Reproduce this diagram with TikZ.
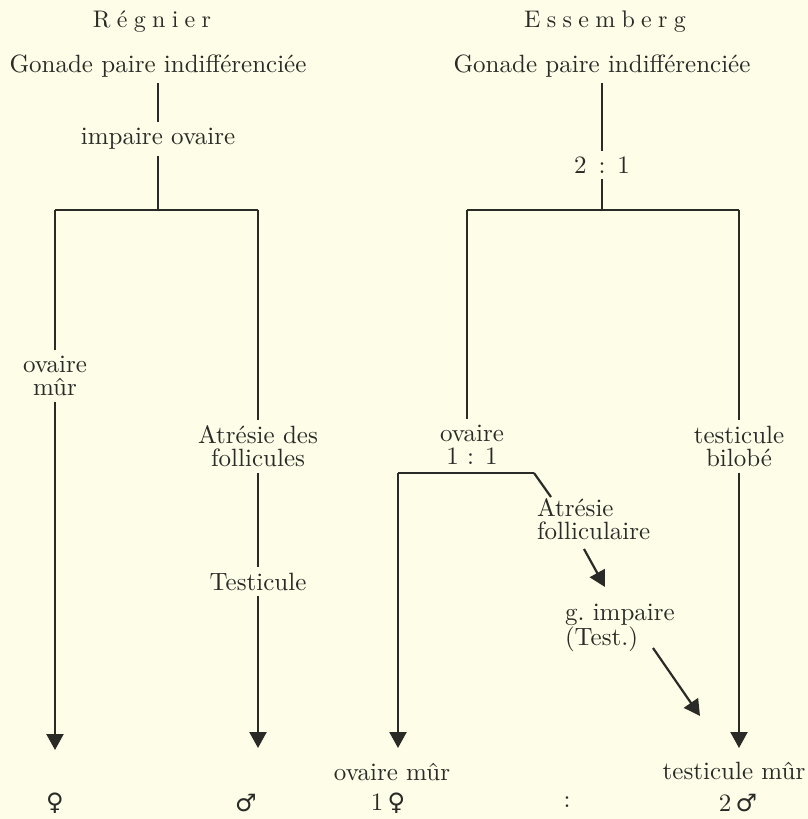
\documentclass[tikz,border=0pt]{standalone}
\usepackage{fontspec}
\setmainfont{lmroman10-regular.otf}
\newfontfamily\symf{DejaVu Sans}
\usetikzlibrary{arrows.meta,calc}
\definecolor{bg}{RGB}{253,253,232}
\definecolor{ink}{RGB}{42,42,38}
\newcommand\lsp{\hspace{6.3pt}}
\newcommand\gsym[1]{{\symf\fontsize{24}{24}\selectfont #1}}
\begin{document}
\begin{tikzpicture}[x=1pt,y=-1pt,
  lbl/.style={inner sep=0pt, outer sep=6pt, text=ink, font=\fontsize{25}{23}\selectfont, align=center},
  head/.style={inner sep=0pt, text=ink, font=\fontsize{24}{24}\selectfont},
  sym/.style={inner sep=0pt, text=ink, font=\fontsize{25}{25}\selectfont},
  ln/.style={draw=ink, line width=2.2pt},
  arr/.style={ln, -{Triangle[width=17pt,length=16pt]}},
]
\fill[bg] (0,0) rectangle (808,819);
\useasboundingbox (0,0) rectangle (808,819);

% ---------------- headers
\node[head] (hR) at (152,22) {R\lsp é\lsp g\lsp n\lsp i\lsp e\lsp r};
\node[head] (hE) at (605,22) {E\lsp s\lsp s\lsp e\lsp m\lsp b\lsp e\lsp r\lsp g};

% ---------------- Régnier (left)
\node[lbl] (gonL) at (158,65.8) {Gonade paire indifférenciée};
\node[lbl] (impL) at (158,139.1) {impaire ovaire};
\coordinate (jL) at (158,210);
\coordinate (bLL) at (55,210);
\coordinate (bLR) at (258,210);
\node[lbl] (ovL) at (55,375.7) {ovaire\\mûr};
\node[lbl] (atrL) at (258,446.3) {Atrésie des\\follicules};
\node[lbl] (testL) at (258,581.5) {Testicule};
\coordinate (eLL) at (55,750);
\coordinate (eLR) at (258,748);
\node[sym] (fem) at (55,803) {\gsym{♀}};
\node[sym] (mal) at (246,803) {\gsym{♂}};

\draw[ln] (gonL) -- (impL);
\draw[ln] (impL) -- (jL);
\draw[ln] (bLL) -- (bLR);
\draw[ln] (bLL) -- (ovL);
\draw[arr] (ovL) -- (eLL);
\draw[ln] (bLR) -- (atrL);
\draw[ln] (atrL) -- (testL);
\draw[arr] (testL) -- (eLR);

% ---------------- Essemberg (right)
\node[lbl] (gonR) at (602,65.8) {Gonade paire indifférenciée};
\node[lbl] (r21) at (602,165) {2\hspace{12pt}:\hspace{12pt}1};
\coordinate (jR) at (602,210);
\coordinate (bRL) at (467,210);
\coordinate (bRR) at (739,210);
\node[lbl] (ovR) at (472,444.7) {ovaire\\1 : 1};
\node[lbl] (tbil) at (739,446.3) {testicule\\bilobé};
\coordinate (cL) at (398,473);
\coordinate (cR) at (534,473);
\node[lbl, align=left, anchor=west, outer sep=0pt] (atrF) at (537,519.3) {Atrésie\\folliculaire};
\node[lbl, align=left, anchor=west, outer sep=0pt] (gimp) at (565,627.8) {g.\ impaire\\(Test.)};
\coordinate (dA) at (551,497);
\coordinate (dBs) at (584,549);
\coordinate (dBe) at (605,587);
\coordinate (dCs) at (653,648);
\coordinate (dCe) at (700,716);
\coordinate (eRL) at (398,748);
\coordinate (eRR) at (739,748);
\node[lbl] (ovM) at (392,771.7) {ovaire mûr};
\node[lbl] (tM) at (734,771.3) {testicule mûr};
\node[sym] (one) at (388,803) {1\,\gsym{♀}};
\node[sym] (colon) at (567,802) {:};
\node[sym] (two) at (738,803) {2\,\gsym{♂}};

\draw[ln] (gonR) -- (r21);
\draw[ln] (r21) -- (jR);
\draw[ln] (bRL) -- (bRR);
\draw[ln] (bRL) -- (bRL |- ovR.north);
\draw[ln] (cL) -- (cR);
\draw[arr] (cL) -- (eRL);
\draw[ln] (cR) -- (dA);
\draw[arr] (dBs) -- (dBe);
\draw[arr] (dCs) -- (dCe);
\draw[ln] (bRR) -- (tbil);
\draw[arr] (tbil) -- (eRR);
\end{tikzpicture}
\end{document}
